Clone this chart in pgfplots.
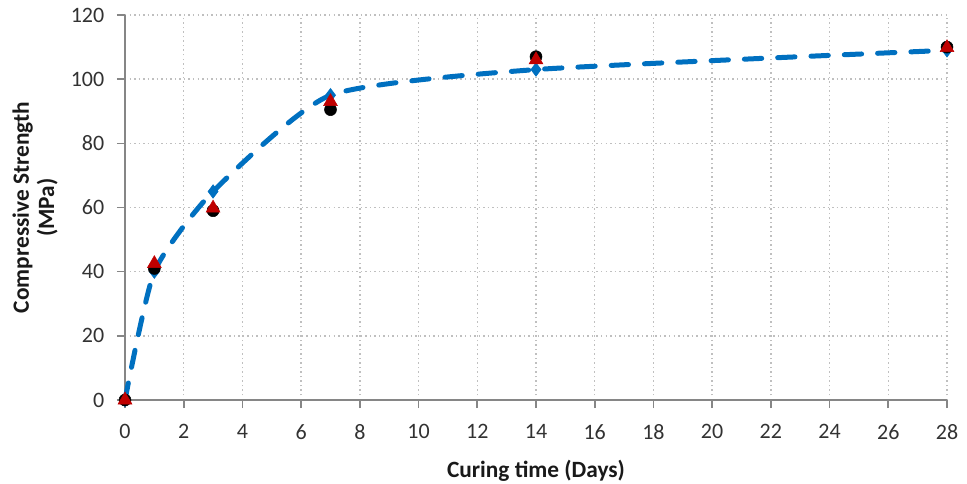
\documentclass[border=0pt]{standalone}
\usepackage{pgfplots}
\pgfplotsset{compat=1.18}
\usepackage{fontspec}
\setmainfont{Carlito}
\definecolor{xlblue}{RGB}{0,112,192}
\definecolor{xlred}{RGB}{192,0,0}
\definecolor{axgray}{RGB}{134,134,134}
\definecolor{txtgray}{RGB}{50,50,50}
\begin{document}
\begin{tikzpicture}
\path[use as bounding box] (0pt,0pt) rectangle (725.25pt,-362.25pt);
\begin{axis}[
  at={(93.75pt,-300pt)}, anchor=south west,
  scale only axis, width=616.5pt, height=288.75pt,
  xmin=0, xmax=28, ymin=0, ymax=120,
  xtick={0,2,...,28}, ytick={0,20,...,120},
  axis lines=left, axis line style={axgray, line width=1.5pt, -},
  tick style={axgray, line width=1.2pt}, tick align=outside,
  major tick length=6pt,
  xmajorgrids, ymajorgrids,
  grid style={gray!50, dash pattern=on 1.1pt off 2.3pt, line width=1.1pt},
  /pgf/number format/assume math mode=true,
  ticklabel style={font=\fontsize{16.5}{20}\selectfont, text=txtgray},
  xticklabel style={yshift=-9pt},
  yticklabel style={xshift=-6pt},
  xlabel={\textbf{Curing time (Days)}},
  xlabel style={font=\fontsize{17.5}{20}\selectfont, yshift=-8pt, text=black!90},
  ylabel={\textbf{Compressive Strength}\\\textbf{(MPa)}},
  ylabel style={font=\fontsize{17.5}{19}\selectfont, align=center, yshift=3pt, text=black!90},
  clip=false,
]
\addplot[xlblue, line width=3.75pt, smooth, tension=0.35, dash pattern=on 13pt off 12pt, line cap=round,
  mark=diamond*, mark size=5pt, mark options={solid, xlblue, line width=0.5pt}]
  coordinates {(0,0) (1,40) (3,65) (7,95) (14,103) (28,109)};
\addplot[only marks, mark=*, mark size=4.5pt, black]
  coordinates {(0,0) (1,41) (3,59) (7,90.5) (14,107) (28,110)};
\addplot[only marks, mark=triangle*, mark size=6pt, xlred, mark options={xlred}]
  coordinates {(0,0) (1,42.5) (3,59.8) (7,93) (14,106) (28,109.8)};
\end{axis}
\end{tikzpicture}
\end{document}
